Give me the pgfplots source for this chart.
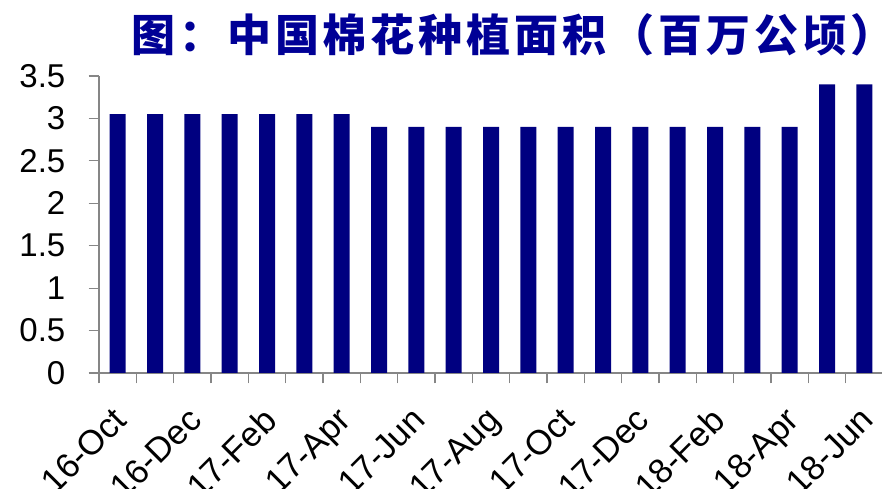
\documentclass[border=0pt]{standalone}
\usepackage{fontspec}
\setmainfont{Liberation Sans}
\newfontfamily\cjk[LetterSpace=9]{Noto Sans CJK SC}
\usepackage{pgfplots}
\pgfplotsset{compat=1.18}
\definecolor{barnavy}{RGB}{0,0,128}
\definecolor{titleblue}{RGB}{0,0,150}
\definecolor{axgray}{RGB}{134,134,134}
\begin{document}
\begin{tikzpicture}
\begin{axis}[
  at={(99pt,116pt)}, anchor=south west,
  width=784pt, height=297pt, scale only axis,
  xmin=-0.5, xmax=20.5, ymin=0, ymax=3.5,
  axis lines=left,
  axis line style={-, draw=axgray, line width=1.2pt},
  every tick/.style={draw=axgray, line width=1.2pt},
  tick align=outside, major tick length=10.5pt,
  ytick={0,0.5,1,1.5,2,2.5,3,3.5},
  yticklabels={0,0.5,1,1.5,2,2.5,3,3.5},
  yticklabel style={font=\fontsize{33}{36}\selectfont, anchor=east, inner sep=0pt, xshift=-23pt},
  xtick={-0.5,0.5,...,20.5},
  xticklabels={},
  extra x ticks={0,2,4,6,8,10,12,14,16,18,20},
  extra x tick labels={16-Oct,16-Dec,17-Feb,17-Apr,17-Jun,17-Aug,17-Oct,17-Dec,18-Feb,18-Apr,18-Jun},
  extra x tick style={major tick length=0pt, tick style={draw=none}},
  xticklabel style={font=\fontsize{34.5}{36}\selectfont, anchor=north east, inner sep=0pt, xshift=-6pt, yshift=-32pt, rotate=45},
  clip=false,
]
\addplot[ybar, bar width=16pt, fill=barnavy, draw=none] coordinates {
(0,3.05) (1,3.05) (2,3.05) (3,3.05) (4,3.05) (5,3.05) (6,3.05)
(7,2.9) (8,2.9) (9,2.9) (10,2.9) (11,2.9) (12,2.9) (13,2.9) (14,2.9) (15,2.9) (16,2.9) (17,2.9) (18,2.9)
(19,3.4) (20,3.4)
};
\end{axis}
\node[anchor=west, text=titleblue, inner sep=0pt, font=\cjk\bfseries\fontsize{44}{48}\selectfont] at (131pt,454pt) {图：中国棉花种植面积（百万公顷）};
\pgfresetboundingbox
\path[use as bounding box] (0pt,0pt) rectangle (882pt,489pt);
\end{tikzpicture}
\end{document}
